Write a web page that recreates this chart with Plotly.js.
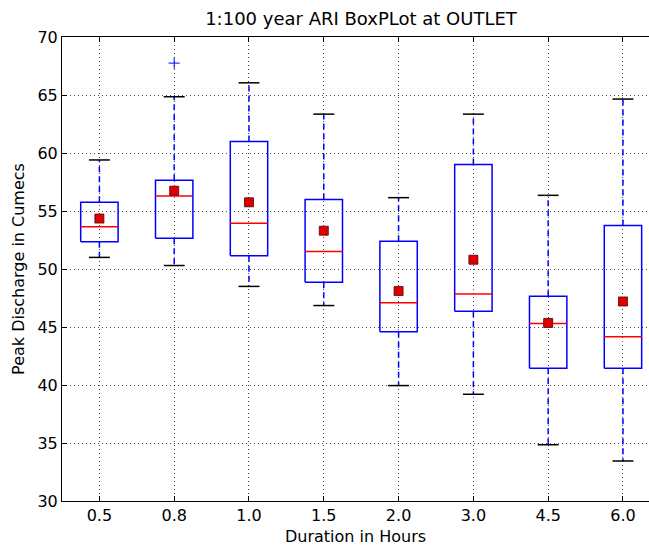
<!DOCTYPE html>
<html>
<head>
<meta charset="utf-8">
<script src="https://cdn.plot.ly/plotly-3.0.1.min.js"></script>
<style>html,body{margin:0;padding:0;background:#fff;}</style>
</head>
<body>
<div id="chart" style="width:649px;height:546px;"></div>
<script>
// ---- data ----
const durations = ['0.5', '0.8', '1.0', '1.5', '2.0', '3.0', '4.5', '6.0'];
const lowerWhisker = [51.0, 50.3, 48.5, 46.85, 39.95, 39.2, 34.85, 33.45];
const q1Values     = [52.35, 52.65, 51.15, 48.85, 44.6, 46.35, 41.45, 41.45];
const medianValues = [53.65, 56.3, 53.95, 51.5, 47.1, 47.85, 45.3, 44.15];
const q3Values     = [55.75, 57.65, 61.0, 56.0, 52.4, 59.0, 47.65, 53.75];
const upperWhisker = [59.4, 64.85, 66.05, 63.35, 56.15, 63.35, 56.35, 64.65];
const meanValues   = [54.35, 56.75, 55.75, 53.3, 48.1, 50.8, 45.35, 47.2];
const outlierDurations = ['0.8'];
const outlierValues    = [67.75];
const yTickValues = [30, 35, 40, 45, 50, 55, 60, 65, 70];

// ---- geometry / styling ----
const BOX_W = 0.5;
const CAP_HALF = 0.14;
const pos = durations.map((d, i) => i);
const posOf = d => durations.indexOf(d);

const bx = [], by = [];
const wx = [], wy = [];
const cx = [], cy = [];
const mx = [], my = [];
pos.forEach((p, i) => {
  const l = p - BOX_W / 2, r = p + BOX_W / 2;
  bx.push(l, r, r, l, l, null);
  by.push(q1Values[i], q1Values[i], q3Values[i], q3Values[i], q1Values[i], null);
  wx.push(p, p, null, p, p, null);
  wy.push(q3Values[i], upperWhisker[i], null, q1Values[i], lowerWhisker[i], null);
  cx.push(p - CAP_HALF, p + CAP_HALF, null, p - CAP_HALF, p + CAP_HALF, null);
  cy.push(upperWhisker[i], upperWhisker[i], null, lowerWhisker[i], lowerWhisker[i], null);
  mx.push(l, r, null);
  my.push(medianValues[i], medianValues[i], null);
});

const boxes = {
  type: 'scatter', mode: 'lines', x: bx, y: by,
  line: {color: '#0000ff', width: 1.5},
  hoverinfo: 'skip', showlegend: false
};
const whiskers = {
  type: 'scatter', mode: 'lines', x: wx, y: wy,
  line: {color: '#0000ff', width: 1.5, dash: '6px,4px'},
  hoverinfo: 'skip', showlegend: false
};
const caps = {
  type: 'scatter', mode: 'lines', x: cx, y: cy,
  line: {color: '#000000', width: 1.5},
  hoverinfo: 'skip', showlegend: false
};
const medians = {
  type: 'scatter', mode: 'lines', x: mx, y: my,
  line: {color: '#ff0000', width: 1.5},
  hoverinfo: 'skip', showlegend: false
};
const means = {
  type: 'scatter', mode: 'markers', x: pos, y: meanValues,
  marker: {symbol: 'square', size: 9, color: '#e00000', line: {color: '#500000', width: 0.8}},
  hoverinfo: 'skip', showlegend: false
};
const outliers = {
  type: 'scatter', mode: 'markers', x: outlierDurations.map(posOf), y: outlierValues,
  marker: {symbol: 'cross-thin-open', size: 8, color: '#0000ff', line: {color: '#0000ff', width: 1}},
  hoverinfo: 'skip', showlegend: false
};

const font = {family: 'DejaVu Sans', color: '#000'};

const layout = {
  width: 649, height: 546,
  margin: {l: 62, r: 0, t: 37, b: 45, pad: 0},
  paper_bgcolor: '#fff', plot_bgcolor: '#fff',
  showlegend: false,
  font: Object.assign({size: 16}, font),
  title: {
    text: '1:100 year ARI BoxPLot at OUTLET',
    font: Object.assign({size: 18}, font),
    xref: 'container', x: 361 / 649, xanchor: 'center',
    yref: 'container', y: 1 - 19 / 546, yanchor: 'middle'
  },
  xaxis: {
    range: [-0.5, 7.348],
    tickmode: 'array', tickvals: pos, ticktext: durations,
    ticks: 'inside', ticklen: 5, tickcolor: '#000', tickwidth: 1,
    showline: true, linecolor: '#000', linewidth: 1, mirror: 'ticks',
    showgrid: true, gridcolor: '#000', gridwidth: 0.7, griddash: '1px,3px',
    zeroline: false,
    tickfont: Object.assign({size: 16}, font),
    title: {text: 'Duration in Hours', font: Object.assign({size: 16}, font), standoff: 7}
  },
  yaxis: {
    range: [30, 70],
    tickmode: 'array', tickvals: yTickValues,
    ticks: 'inside', ticklen: 5, tickcolor: '#000', tickwidth: 1,
    showline: true, linecolor: '#000', linewidth: 1, mirror: false,
    showgrid: true, gridcolor: '#000', gridwidth: 0.7, griddash: '1px,3px',
    zeroline: false,
    tickfont: Object.assign({size: 16}, font),
    title: {text: 'Peak Discharge in Cumecs', font: Object.assign({size: 16}, font), standoff: 8}
  }
};

Plotly.newPlot('chart', [boxes, whiskers, caps, medians, means, outliers], layout,
  {staticPlot: true, displayModeBar: false});
</script>
</body>
</html>
